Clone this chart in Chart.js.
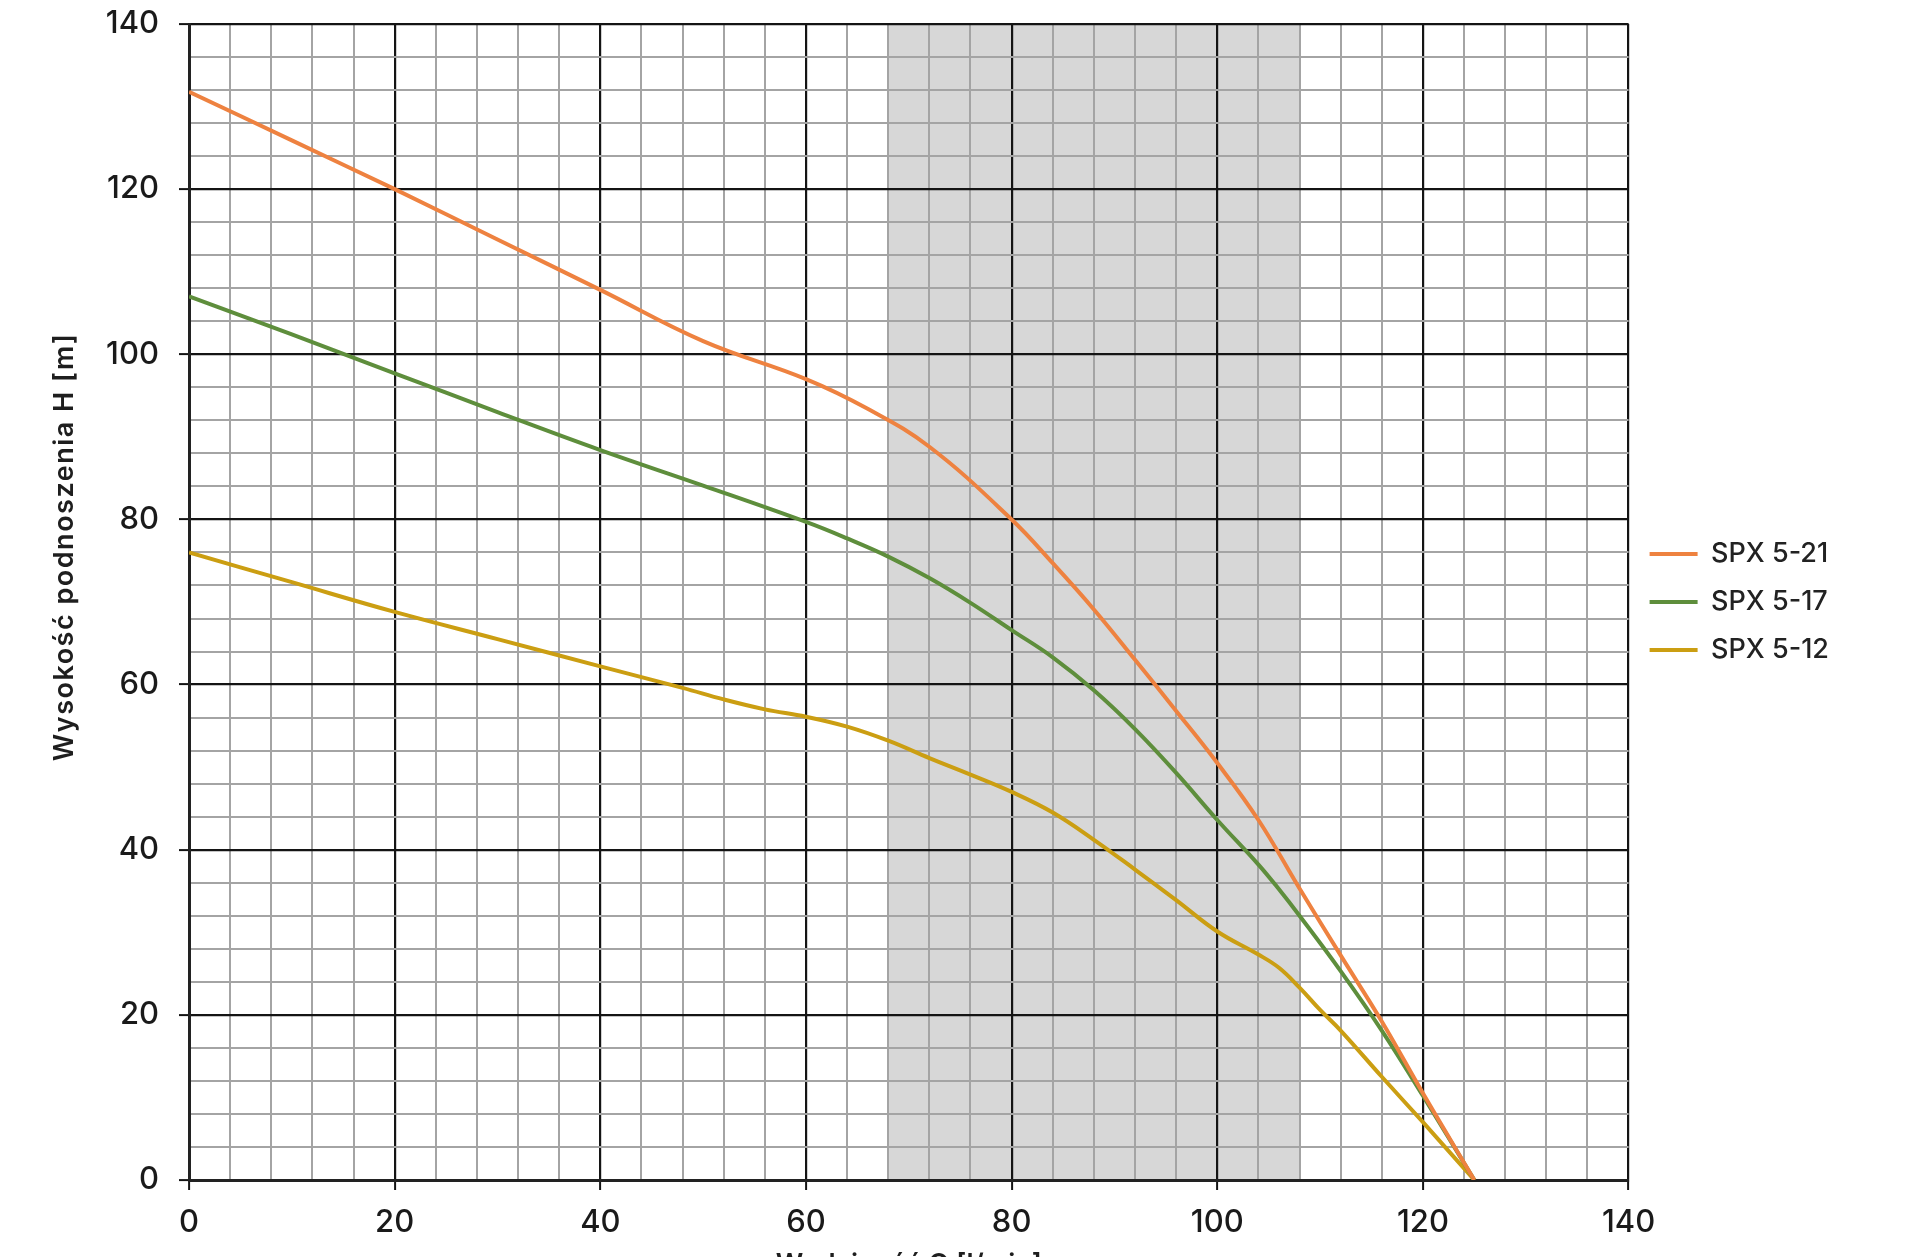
<!DOCTYPE html>
<html>
<head>
<meta charset="utf-8">
<script src="https://cdn.jsdelivr.net/npm/chart.js@4.4.1/dist/chart.umd.min.js"></script>
<style>
  html, body { margin: 0; padding: 0; background: #fff; overflow: hidden; }
</style>
</head>
<body>
<canvas id="pumpChart" width="1920" height="1300"></canvas>
<script>
// Pump curves, flow Q [l/min] vs head H [m]
const flow21 = [0, 10, 20, 30, 40, 50, 60, 66, 72, 80, 84, 88, 92, 96, 100, 104, 108, 112, 116, 120, 125];
const head21 = [131.8, 125.9, 120, 113.9, 107.8, 101.6, 97, 93.4, 88.8, 80, 74.7, 69.1, 63, 56.8, 50.5, 43.6, 35.3, 27.2, 19.2, 10.5, 0];

const flow17 = [0, 10, 20, 30, 40, 50, 60, 64, 68, 72, 76, 80, 84, 88, 92, 96, 100, 104, 106, 108, 112, 116, 120, 125];
const head17 = [107, 102.4, 97.7, 93, 88.4, 84.1, 79.7, 77.7, 75.5, 72.9, 69.9, 66.6, 63.3, 59.3, 54.6, 49.3, 43.6, 38.2, 35.2, 32, 25.3, 18.1, 10.2, 0];

const flow12 = [0, 10, 20, 30, 40, 48, 52, 56, 60, 64, 68, 72, 76, 80, 84, 88, 92, 96, 100, 104, 106, 108, 110, 112, 116, 120, 125];
const head12 = [76, 72.4, 68.8, 65.5, 62.2, 59.6, 58.2, 57, 56.1, 54.9, 53.2, 51.1, 49.1, 47, 44.5, 41.2, 37.6, 33.9, 30.1, 27.3, 25.7, 23.3, 20.6, 18.1, 12.5, 7, 0];

const seriesNames = ["SPX 5-21", "SPX 5-17", "SPX 5-12"];
const seriesColors = ["#EE8240", "#5E8E3C", "#CB9E12"];

// recommended working range (grey band)
const workRange = [68, 108];

const axisMin = 0;
const axisMax = 140;
const minorStep = 4;
const majorStep = 20;

const yTitle = "Wysokość podnoszenia H [m]";
const xTitle = "Wydajność Q [l/min]";

function toPoints(xs, ys) {
  return xs.map((x, i) => ({ x: x, y: ys[i] }));
}

const isMajor = (c) => c.tick && c.tick.value % majorStep === 0;

const gridStyle = {
  color: (c) => (isMajor(c) ? "#141414" : "#a4a4a4"),
  lineWidth: (c) => (isMajor(c) ? 2.2 : 2),
  tickColor: (c) => (isMajor(c) ? "#141414" : "rgba(0,0,0,0)"),
  tickLength: 10,
  tickWidth: 2,
};

const tickFont = { family: "Inter", size: 31, weight: "500" };

// grey band behind the grid
const bandPlugin = {
  id: "band",
  beforeDraw(chart) {
    const { ctx, chartArea, scales } = chart;
    const x1 = scales.x.getPixelForValue(workRange[0]);
    const x2 = scales.x.getPixelForValue(workRange[1]);
    ctx.save();
    ctx.fillStyle = "#d7d7d7";
    ctx.fillRect(x1, chartArea.top, x2 - x1, chartArea.bottom - chartArea.top);
    ctx.restore();
  },
};

// y title sits a bit above the middle of the plot
const yTitlePlugin = {
  id: "yTitle",
  afterDraw(chart) {
    const ctx = chart.ctx;
    ctx.save();
    ctx.translate(65, 547);
    ctx.rotate(-Math.PI / 2);
    ctx.font = "600 27px Inter";
    ctx.letterSpacing = "1.5px";
    ctx.fillStyle = "#1e1e1e";
    ctx.textAlign = "center";
    ctx.textBaseline = "middle";
    ctx.fillText(yTitle, 0, 0);
    ctx.restore();
  },
};

const pumpData = {
  datasets: [
    { label: seriesNames[0], data: toPoints(flow21, head21) },
    { label: seriesNames[1], data: toPoints(flow17, head17) },
    { label: seriesNames[2], data: toPoints(flow12, head12) },
  ].map((d, i) => ({
    ...d,
    borderColor: seriesColors[i],
    backgroundColor: seriesColors[i],
    borderWidth: 4,
    pointRadius: 0,
    tension: 0.4,
    fill: false,
  })),
};

const pumpConfig = {
  type: "line",
  data: pumpData,
  plugins: [bandPlugin, yTitlePlugin],
  options: {
    responsive: false,
    animation: false,
    layout: {
      padding: { left: 94, right: 81, top: 24, bottom: 0 },
    },
    plugins: {
      legend: {
        position: "right",
        fullSize: false,
        labels: {
          usePointStyle: true,
          pointStyle: "line",
          pointStyleWidth: 48,
          padding: 21,
          color: "#222",
          font: { family: "Inter", size: 27, weight: "500" },
        },
      },
      tooltip: { enabled: false },
    },
    scales: {
      x: {
        type: "linear",
        min: axisMin,
        max: axisMax,
        afterFit: (scale) => {
          scale.height = 120;
          scale.paddingLeft = 0;
          scale.paddingRight = 0;
        },
        grid: gridStyle,
        border: { color: "#222", width: 3 },
        ticks: {
          stepSize: minorStep,
          maxTicksLimit: 100,
          autoSkip: false,
          maxRotation: 0,
          padding: 14,
          color: "#1a1a1a",
          font: tickFont,
          callback: (v) => (v % majorStep === 0 ? v : ""),
        },
        title: {
          display: true,
          text: xTitle,
          color: "#1e1e1e",
          font: { family: "Inter", size: 27, weight: "600" },
          padding: { top: 0, bottom: 19 },
        },
      },
      y: {
        type: "linear",
        min: axisMin,
        max: axisMax,
        afterFit: (scale) => {
          scale.width = 95;
          scale.paddingTop = 0;
          scale.paddingBottom = 0;
        },
        grid: gridStyle,
        border: { color: "#222", width: 3 },
        ticks: {
          stepSize: minorStep,
          maxTicksLimit: 100,
          autoSkip: false,
          padding: 20,
          color: "#1a1a1a",
          font: tickFont,
          callback: (v) => (v % majorStep === 0 ? v : ""),
        },
      },
    },
  },
};

const pumpChart = new Chart(document.getElementById("pumpChart"), pumpConfig);
</script>
</body>
</html>
